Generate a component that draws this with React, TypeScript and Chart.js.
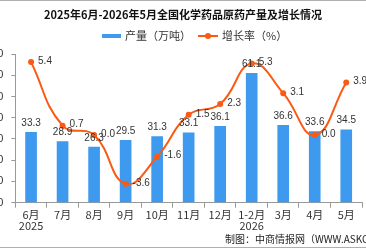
import React, { useEffect, useRef } from 'react';
import { Chart, registerables } from 'chart.js';

Chart.register(...registerables);

const categories: (string | string[])[] = [['6月', '2025'], '7月', '8月', '9月', '10月', '11月', '12月', ['1-2月', '2026'], '3月', '4月', '5月'];
const production = [33.3, 28.9, 26.3, 29.5, 31.3, 33.1, 36.1, 61.1, 36.6, 33.6, 34.5];
const growth = [5.4, 0.7, 0.0, -3.6, -1.6, 1.5, 2.3, 5.3, 3.1, 0.0, 3.9];
const leftTicks = [0, 10, 20, 30, 40, 50, 60, 70];

const TITLE = '2025年6月-2026年5月全国化学药品原药产量及增长情况';
const LEGEND_BAR = '产量（万吨）';
const LEGEND_LINE = '增长率（%）';
const FOOTER = '制图：中商情报网（WWW.ASKCI.COM）';

const BAR_COLOR = '#3D9AEE';
const LINE_COLOR = '#FA5A14';
const CJK = '"Noto Sans CJK SC", "Noto Sans", sans-serif';

const overlay = {
  id: 'overlay',
  afterDatasetsDraw(chart: any) {
    const ctx = chart.ctx;
    ctx.save();
    ctx.strokeStyle = '#b0b0b0';
    ctx.lineWidth = 1;
    ctx.beginPath();
    ctx.moveTo(0, 0.5);
    ctx.lineTo(366, 0.5);
    ctx.moveTo(0, 247.5);
    ctx.lineTo(366, 247.5);
    ctx.stroke();

    ctx.fillStyle = '#111';
    ctx.font = `bold 11px ${CJK}`;
    ctx.textAlign = 'center';
    ctx.textBaseline = 'middle';
    ctx.fillText(TITLE, 183, 15);

    ctx.fillStyle = BAR_COLOR;
    ctx.fillRect(102, 34, 19, 4);
    ctx.fillStyle = '#333';
    ctx.font = `11px ${CJK}`;
    ctx.textAlign = 'left';
    ctx.fillText(LEGEND_BAR, 125, 36);
    ctx.strokeStyle = LINE_COLOR;
    ctx.lineWidth = 2;
    ctx.beginPath();
    ctx.moveTo(198, 36);
    ctx.lineTo(218, 36);
    ctx.stroke();
    ctx.fillStyle = LINE_COLOR;
    ctx.beginPath();
    ctx.arc(208, 36, 3, 0, Math.PI * 2);
    ctx.fill();
    ctx.fillStyle = '#333';
    ctx.fillText(LEGEND_LINE, 222, 36);

    ctx.fillStyle = '#222';
    ctx.font = `10px ${CJK}`;
    ctx.fillText(FOOTER, 225, 239);

    ctx.font = '10px "Liberation Sans", sans-serif';
    ctx.fillStyle = '#333';
    const barMeta = chart.getDatasetMeta(0);
    ctx.textAlign = 'center';
    barMeta.data.forEach((el: any, i: number) => {
      ctx.fillText(production[i].toFixed(1), el.x, el.y - 9);
    });
    const lineMeta = chart.getDatasetMeta(1);
    ctx.textAlign = 'left';
    lineMeta.data.forEach((el: any, i: number) => {
      ctx.fillText(growth[i].toFixed(1), el.x + 7, el.y - 1);
    });
    ctx.restore();
  },
};

export default function App() {
  const ref = useRef<HTMLCanvasElement>(null);
  useEffect(() => {
    if (!ref.current) return;
    const chart = new Chart(ref.current, {
      type: 'bar',
      data: {
        labels: categories as any,
        datasets: [
          {
            type: 'bar',
            label: LEGEND_BAR,
            data: production,
            backgroundColor: BAR_COLOR,
            yAxisID: 'y',
            barPercentage: 0.37,
            categoryPercentage: 1,
            order: 1,
          },
          {
            type: 'line',
            label: LEGEND_LINE,
            data: growth,
            borderColor: LINE_COLOR,
            backgroundColor: LINE_COLOR,
            borderWidth: 2,
            tension: 0.45,
            pointRadius: 3,
            pointBackgroundColor: LINE_COLOR,
            pointBorderWidth: 0,
            yAxisID: 'y1',
            order: 0,
          } as any,
        ],
      },
      options: {
        responsive: false,
        animation: false,
        layout: { padding: { top: 54, right: 1, left: 0, bottom: 0 } },
        plugins: {
          legend: { display: false },
          title: { display: false },
          tooltip: { enabled: false },
        },
        scales: {
          x: {
            offset: true,
            grid: { display: true, drawOnChartArea: false, drawTicks: true, tickLength: 5, color: '#999', offset: true },
            border: { display: true, color: '#999' },
            ticks: {
              autoSkip: false,
              maxRotation: 0,
              minRotation: 0,
              padding: 1,
              color: '#333',
              font: { size: 11, family: CJK, lineHeight: 1.05 },
            },
            afterFit: (scale: any) => {
              scale.height = 45.3;
            },
          },
          y: {
            position: 'left',
            min: 0,
            max: 70,
            afterBuildTicks: (scale: any) => {
              scale.ticks = leftTicks.map((v) => ({ value: v }));
            },
            grid: { display: true, drawOnChartArea: false, drawTicks: true, tickLength: 4, color: '#999' },
            border: { display: true, color: '#999' },
            ticks: {
              padding: 8,
              color: '#333',
              font: { size: 11, family: '"Liberation Sans", sans-serif' },
            },
            afterFit: (scale: any) => {
              scale.width = 15.3;
            },
          },
          y1: {
            position: 'right',
            display: false,
            min: -5,
            max: 6,
          },
        },
      },
      plugins: [overlay],
    });
    return () => chart.destroy();
  }, []);
  return (
    <div style={{ position: 'fixed', left: 0, top: 0, width: 366, height: 248, background: '#fff' }}>
      <canvas ref={ref} width={366} height={248} style={{ width: 366, height: 248, display: 'block' }} />
    </div>
  );
}
